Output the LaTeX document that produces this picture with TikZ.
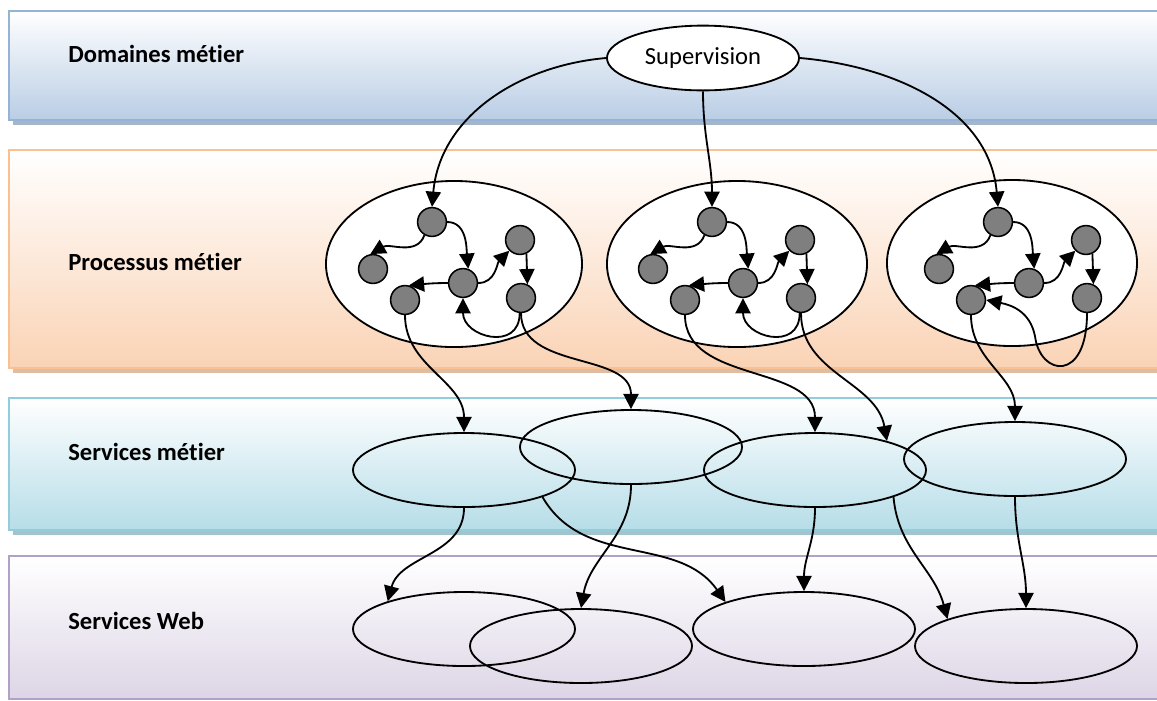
\documentclass[tikz,border=0pt]{standalone}
\usepackage{fontspec}
\setmainfont{Carlito}[Ligatures=NoCommon]
\usetikzlibrary{shapes.geometric,arrows.meta}

\definecolor{linedom}{HTML}{95B3D7}
\definecolor{filldom}{HTML}{B9CDE5}
\definecolor{linepro}{HTML}{FAC090}
\definecolor{fillpro}{HTML}{FAD3B5}
\definecolor{linesme}{HTML}{92CDDC}
\definecolor{fillsme}{HTML}{B6DDE8}
\definecolor{lineweb}{HTML}{B2A1C7}
\definecolor{fillweb}{HTML}{DDD5E6}
\definecolor{dotgray}{HTML}{7F7F7F}

\begin{document}
\begin{tikzpicture}[x=0.025cm, y=0.025cm,
  band/.style={line width=1.4pt},
  lbl/.style={anchor=base west, inner sep=0pt, font=\bfseries\fontsize{17.5}{21}\selectfont},
  proc/.style={draw, ellipse, fill=white, line width=1.3pt, minimum height=4.15cm, inner sep=0pt},
  svc/.style={draw, ellipse, line width=1.3pt, minimum width=5.55cm, minimum height=1.85cm, inner sep=0pt},
  dot/.style={draw, circle, fill=dotgray, line width=1.1pt, minimum size=0.72cm, inner sep=0pt},
  flow/.style={line width=1.3pt, -{Triangle[length=0.38cm, width=0.38cm]}}]

\clip (0,0) rectangle (1157,-700);

% layers
\foreach \t/\b/\c in {11/120/dom,150/368/pro,398/530/sme,556/699/web}
  \draw[band, draw=line\c, top color=white, bottom color=fill\c] (9,-\t) rectangle (1175,-\b);
\foreach \b/\c in {120/dom,368/pro,530/sme}
  \fill[line\c!70!gray!80] (13,-\b-1) rectangle (1175,-\b-5);

\node[lbl] (ldom) at (68,-62) {Domaines métier};
\node[lbl] (lpro) at (68,-270) {Processus métier};
\node[lbl] (lsme) at (68,-460) {Services métier};
\node[lbl] (lweb) at (68,-629) {Services Web};

\node[draw, ellipse, fill=white, line width=1.3pt, minimum width=4.8cm, minimum height=1.62cm,
  inner sep=0pt, font=\fontsize{17.5}{21}\selectfont] (sup) at (703,-58) {Supervision};

% processes
\node[proc, minimum width=6.4cm] (p1) at (454,-264) {};
\node[proc, minimum width=6.5cm] (p2) at (737,-264) {};
\node[proc, minimum width=6.25cm] (p3) at (1012,-263) {};

\foreach \p/\ax in {1/432,2/712,3/998} {
  \node[dot] (a\p) at (\ax,-222) {};
  \node[dot] (b\p) at ([shift={(-59,-47)}]a\p) {};
  \node[dot] (c\p) at ([shift={(31,-61)}]a\p) {};
  \node[dot] (d\p) at ([shift={(-27,-78)}]a\p) {};
  \node[dot] (e\p) at ([shift={(88,-18)}]a\p) {};
  \node[dot] (f\p) at ([shift={(89,-76)}]a\p) {};
  \draw[flow] (a\p.240) to[out=-110, in=30] (b\p.100);
  \draw[flow] (a\p.east) to[out=0, in=95] (c\p.70);
  \draw[flow] (c\p.west) to[out=180, in=5] (d\p.75);
  \draw[flow] (c\p.east) to[out=0, in=225] (e\p.225);
  \draw[flow] (e\p.-65) -- (f\p.65);
}
\draw[flow] (f1.-95) to[out=-90, in=-90, looseness=1.7] (c1.south);
\draw[flow] (f2.-95) to[out=-90, in=-90, looseness=1.7] (c2.south);
\draw[flow] (f3.south) .. controls +(0,-70) and +(5,-40) .. ++(-52,-23)
  .. controls +(-5,25) and +(25,-5) .. (d3.east);

% supervision
\draw[flow] (sup.west) to[out=185, in=85] (a1.north);
\draw[flow] (sup.south) to[out=-90, in=90] (a2.north);
\draw[flow] (sup.east) to[out=-5, in=95] (a3.north);

% services
\node[svc] (s1) at (464,-470) {};
\node[svc] (s2) at (631,-447) {};
\node[svc] (s3) at (815,-470) {};
\node[svc] (s4) at (1015,-459) {};
\node[svc] (w1) at (464,-629) {};
\node[svc] (w2) at (581,-646) {};
\node[svc] (w3) at (804,-629) {};
\node[svc] (w4) at (1026,-646) {};

\draw[flow] (d1.south) to[out=-90, in=90] (s1.north);
\draw[flow] (f1.south) to[out=-90, in=90] (s2.north);
\draw[flow] (d2.south) to[out=-90, in=90] (s3.north);
\draw[flow] (f2.south) to[out=-90, in=100] (s3.22);
\draw[flow] (d3.south) to[out=-90, in=90] (s4.north);

\draw[flow] (s1.south) to[out=-90, in=75] (w1.160);
\draw[flow] (s1.-19) to[out=-60, in=125] (w3.161);
\draw[flow] (s2.south) to[out=-90, in=80] (w2.north);
\draw[flow] (s3.south) to[out=-90, in=90] (w3.north);
\draw[flow] (s3.-19) to[out=-85, in=105] (w4.161);
\draw[flow] (s4.south) to[out=-90, in=90] (w4.north);

\end{tikzpicture}
\end{document}
